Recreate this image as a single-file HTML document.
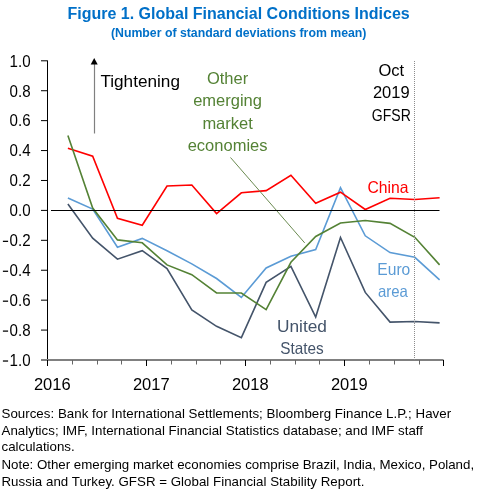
<!DOCTYPE html>
<html><head><meta charset="utf-8"><style>
html,body{margin:0;padding:0;background:#fff;}
body{width:481px;height:497px;overflow:hidden;position:relative;font-family:"Liberation Sans",sans-serif;}
svg{position:absolute;left:0;top:0;will-change:transform;}
.c{font-family:"Liberation Sans",sans-serif;font-size:16.5px;fill:#000;}
.t{font-family:"Liberation Sans",sans-serif;font-weight:bold;fill:#0070C8;}
.f{font-family:"Liberation Sans",sans-serif;font-size:13.3px;fill:#000;}
</style></head><body>
<svg width="481" height="497" viewBox="0 0 481 497">
<text x="238.6" y="18.7" text-anchor="middle" class="t" style="font-size:16px">Figure 1. Global Financial Conditions Indices</text>
<text x="238.7" y="37" text-anchor="middle" class="t" style="font-size:12.3px">(Number of standard deviations from mean)</text>
<line x1="47.5" y1="60.5" x2="47.5" y2="366" stroke="#000" stroke-width="1"/>
<line x1="41" y1="60.8" x2="47.5" y2="60.8" stroke="#000" stroke-width="1"/><text x="30.6" y="66.6" text-anchor="end" class="c" textLength="21" lengthAdjust="spacingAndGlyphs">1.0</text><line x1="41" y1="90.72" x2="47.5" y2="90.72" stroke="#000" stroke-width="1"/><text x="30.6" y="96.5" text-anchor="end" class="c" textLength="21" lengthAdjust="spacingAndGlyphs">0.8</text><line x1="41" y1="120.64" x2="47.5" y2="120.64" stroke="#000" stroke-width="1"/><text x="30.6" y="126.4" text-anchor="end" class="c" textLength="21" lengthAdjust="spacingAndGlyphs">0.6</text><line x1="41" y1="150.56" x2="47.5" y2="150.56" stroke="#000" stroke-width="1"/><text x="30.6" y="156.4" text-anchor="end" class="c" textLength="21" lengthAdjust="spacingAndGlyphs">0.4</text><line x1="41" y1="180.48" x2="47.5" y2="180.48" stroke="#000" stroke-width="1"/><text x="30.6" y="186.3" text-anchor="end" class="c" textLength="21" lengthAdjust="spacingAndGlyphs">0.2</text><line x1="41" y1="210.4" x2="47.5" y2="210.4" stroke="#000" stroke-width="1"/><text x="30.6" y="216.2" text-anchor="end" class="c" textLength="21" lengthAdjust="spacingAndGlyphs">0.0</text><line x1="41" y1="240.32" x2="47.5" y2="240.32" stroke="#000" stroke-width="1"/><rect x="2.9" y="240.72" width="5.2" height="1.25" fill="#000"/><text x="30.6" y="246.1" text-anchor="end" class="c" textLength="21" lengthAdjust="spacingAndGlyphs">0.2</text><line x1="41" y1="270.24" x2="47.5" y2="270.24" stroke="#000" stroke-width="1"/><rect x="2.9" y="270.64" width="5.2" height="1.25" fill="#000"/><text x="30.6" y="276.0" text-anchor="end" class="c" textLength="21" lengthAdjust="spacingAndGlyphs">0.4</text><line x1="41" y1="300.16" x2="47.5" y2="300.16" stroke="#000" stroke-width="1"/><rect x="2.9" y="300.56" width="5.2" height="1.25" fill="#000"/><text x="30.6" y="306.0" text-anchor="end" class="c" textLength="21" lengthAdjust="spacingAndGlyphs">0.6</text><line x1="41" y1="330.08" x2="47.5" y2="330.08" stroke="#000" stroke-width="1"/><rect x="2.9" y="330.48" width="5.2" height="1.25" fill="#000"/><text x="30.6" y="335.9" text-anchor="end" class="c" textLength="21" lengthAdjust="spacingAndGlyphs">0.8</text><line x1="41" y1="360.0" x2="47.5" y2="360.0" stroke="#000" stroke-width="1"/><rect x="2.9" y="360.40" width="5.2" height="1.25" fill="#000"/><text x="30.6" y="365.8" text-anchor="end" class="c" textLength="21" lengthAdjust="spacingAndGlyphs">1.0</text>
<line x1="41" y1="360" x2="443.5" y2="360" stroke="#808080" stroke-width="2"/>
<line x1="47.5" y1="360" x2="47.5" y2="366" stroke="#000" stroke-width="1"/><line x1="72.5" y1="360" x2="72.5" y2="364.5" stroke="#666" stroke-width="1"/><line x1="97.5" y1="360" x2="97.5" y2="364.5" stroke="#666" stroke-width="1"/><line x1="121.5" y1="360" x2="121.5" y2="364.5" stroke="#666" stroke-width="1"/><line x1="146.5" y1="360" x2="146.5" y2="366" stroke="#000" stroke-width="1"/><line x1="171.5" y1="360" x2="171.5" y2="364.5" stroke="#666" stroke-width="1"/><line x1="196.5" y1="360" x2="196.5" y2="364.5" stroke="#666" stroke-width="1"/><line x1="220.5" y1="360" x2="220.5" y2="364.5" stroke="#666" stroke-width="1"/><line x1="245.5" y1="360" x2="245.5" y2="366" stroke="#000" stroke-width="1"/><line x1="270.5" y1="360" x2="270.5" y2="364.5" stroke="#666" stroke-width="1"/><line x1="295.5" y1="360" x2="295.5" y2="364.5" stroke="#666" stroke-width="1"/><line x1="319.5" y1="360" x2="319.5" y2="364.5" stroke="#666" stroke-width="1"/><line x1="344.5" y1="360" x2="344.5" y2="366" stroke="#000" stroke-width="1"/><line x1="369.5" y1="360" x2="369.5" y2="364.5" stroke="#666" stroke-width="1"/><line x1="394.5" y1="360" x2="394.5" y2="364.5" stroke="#666" stroke-width="1"/><line x1="419.5" y1="360" x2="419.5" y2="364.5" stroke="#666" stroke-width="1"/><line x1="443.5" y1="360" x2="443.5" y2="366" stroke="#000" stroke-width="1"/><text x="52.3" y="390" text-anchor="middle" class="c">2016</text><text x="151.3" y="390" text-anchor="middle" class="c">2017</text><text x="250.3" y="390" text-anchor="middle" class="c">2018</text><text x="349.3" y="390" text-anchor="middle" class="c">2019</text>
<line x1="94.5" y1="64" x2="94.5" y2="133.5" stroke="#808080" stroke-width="1.2"/>
<polygon points="94.2,58 90.7,64.5 97.7,64.5" fill="#000"/>
<text x="100.4" y="86.9" class="c" textLength="79.6" lengthAdjust="spacingAndGlyphs">Tightening</text>
<g class="c" style="fill:#548235" text-anchor="middle">
<text x="227.6" y="84.1">Other</text>
<text x="227.6" y="106.3">emerging</text>
<text x="227.6" y="128.5">market</text>
<text x="227.6" y="150.7">economies</text>
</g>
<g class="c" text-anchor="middle">
<text x="391.3" y="76.1">Oct</text>
<text x="391.3" y="98.4">2019</text>
<text x="391.3" y="121.2" textLength="39" lengthAdjust="spacingAndGlyphs">GFSR</text>
</g>
<text x="388" y="193" text-anchor="middle" class="c" style="fill:#FF0000" textLength="41" lengthAdjust="spacingAndGlyphs">China</text>
<g class="c" style="fill:#5B9BD5" text-anchor="middle">
<text x="393.8" y="274.8" textLength="33" lengthAdjust="spacingAndGlyphs">Euro</text>
<text x="392.9" y="296.8" textLength="30" lengthAdjust="spacingAndGlyphs">area</text>
</g>
<g class="c" style="fill:#44546A" text-anchor="middle">
<text x="302" y="332" textLength="50" lengthAdjust="spacingAndGlyphs">United</text>
<text x="302" y="354" textLength="43.5" lengthAdjust="spacingAndGlyphs">States</text>
</g>
<polyline points="67.90,204.00 92.68,238.20 117.46,259.20 142.24,250.70 167.02,268.50 191.80,310.00 216.58,326.30 241.36,337.70 266.14,282.40 290.92,266.30 315.70,317.10 340.48,237.40 365.26,292.40 390.04,322.10 414.82,321.50 439.60,322.90" fill="none" stroke="#44546A" stroke-width="1.6" stroke-linejoin="miter"/>
<polyline points="67.90,198.00 92.68,209.10 117.46,247.20 142.24,238.40 167.02,250.80 191.80,263.90 216.58,278.50 241.36,297.50 266.14,268.00 290.92,256.20 315.70,249.60 340.48,187.70 365.26,235.80 390.04,252.60 414.82,257.30 439.60,279.90" fill="none" stroke="#5B9BD5" stroke-width="1.6" stroke-linejoin="miter"/>
<polyline points="67.90,148.30 92.68,156.20 117.46,218.30 142.24,225.20 167.02,186.00 191.80,185.00 216.58,213.60 241.36,192.80 266.14,190.60 290.92,175.20 315.70,203.30 340.48,192.20 365.26,209.50 390.04,198.30 414.82,199.50 439.60,197.80" fill="none" stroke="#FF0000" stroke-width="1.6" stroke-linejoin="miter"/>
<polyline points="67.90,135.50 92.68,208.00 117.46,239.90 142.24,242.80 167.02,264.90 191.80,274.70 216.58,292.90 241.36,293.00 266.14,309.60 290.92,262.30 315.70,236.50 340.48,223.00 365.26,220.50 390.04,223.40 414.82,237.30 439.60,264.90" fill="none" stroke="#548235" stroke-width="1.6" stroke-linejoin="miter"/>
<line x1="414.5" y1="61" x2="414.5" y2="360" stroke="#8C8C8C" stroke-width="1" stroke-dasharray="1,1"/>
<line x1="230.5" y1="157.5" x2="304.7" y2="242.9" stroke="#6A8A50" stroke-width="1"/>
<line x1="51" y1="210.5" x2="439.5" y2="210.5" stroke="#000" stroke-width="1.2"/>
<g class="f">
<text x="1.5" y="417.7" textLength="449.6" lengthAdjust="spacing">Sources: Bank for International Settlements; Bloomberg Finance L.P.; Haver</text>
<text x="1.5" y="434.6" textLength="421.5" lengthAdjust="spacing">Analytics; IMF, International Financial Statistics database; and IMF staff</text>
<text x="1.5" y="451.4">calculations.</text>
<text x="1.5" y="469" textLength="472.6" lengthAdjust="spacing">Note: Other emerging market economies comprise Brazil, India, Mexico, Poland,</text>
<text x="1.5" y="485.9" textLength="363" lengthAdjust="spacing">Russia and Turkey. GFSR = Global Financial Stability Report.</text>
</g>
</svg>
</body></html>
